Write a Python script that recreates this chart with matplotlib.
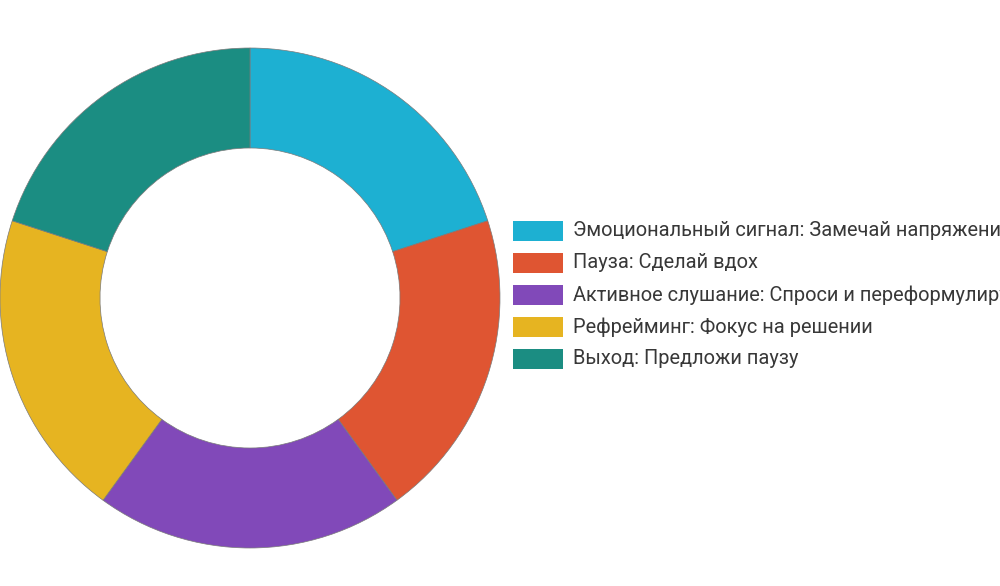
import matplotlib.pyplot as plt
from matplotlib.patches import Rectangle

labels = [
    "Эмоциональный сигнал: Замечай напряжение",
    "Пауза: Сделай вдох",
    "Активное слушание: Спроси и переформулируй",
    "Рефрейминг: Фокус на решении",
    "Выход: Предложи паузу",
]
values = [1, 1, 1, 1, 1]
colors = ["#1DB0D2", "#DF5532", "#8149B9", "#E6B421", "#1B8D82"]

W, H = 1000, 586
fig = plt.figure(figsize=(10, 5.86), dpi=100)

# donut
ax = fig.add_axes([0, (H - 548) / H, 500 / W, 500 / H])
ax.pie(values, colors=colors, startangle=90, counterclock=False, radius=1,
       wedgeprops=dict(width=0.4, edgecolor="#7a7a7a", linewidth=0.5))
ax.set_aspect("equal")
ax.set_xlim(-1.0, 1.0)
ax.set_ylim(-1.0, 1.0)
ax.axis("off")

# legend (text runs off the right edge like in the original)
for i, (lab, col) in enumerate(zip(labels, colors)):
    yc = 231 + i * 32
    fig.patches.append(Rectangle((513 / W, (H - yc - 10) / H), 50 / W, 20 / H,
                                 transform=fig.transFigure, facecolor=col,
                                 edgecolor="none"))
    fig.text(573 / W, (H - yc) / H, lab, fontsize=14.4, family="Roboto",
             color="#383838", va="center", ha="left")

fig.savefig("out.png", dpi=100)
